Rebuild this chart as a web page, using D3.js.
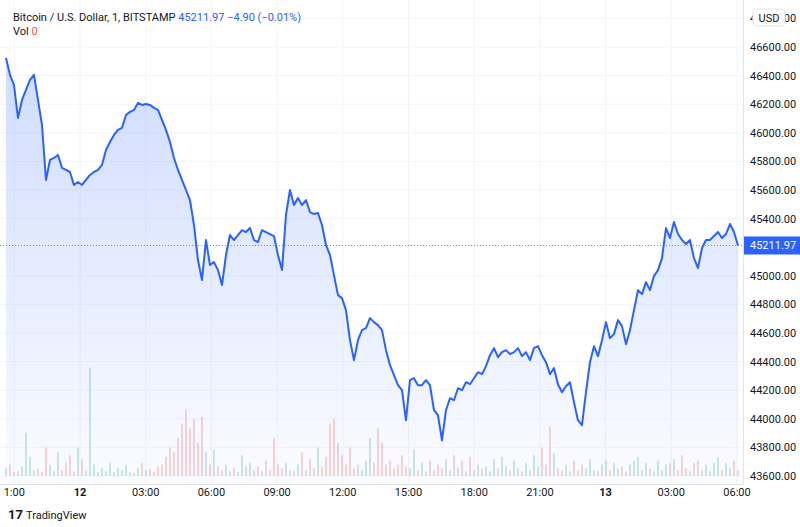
<!DOCTYPE html>
<html><head><meta charset="utf-8">
<script src="https://cdn.jsdelivr.net/npm/d3@7"></script>
<style>body{margin:0;background:#fff;font-family:"Trebuchet MS",Roboto,sans-serif}</style>
</head><body><svg id="c" width="800" height="527"></svg>
<script>
// Bitcoin / USD, 1-minute, sampled roughly every 11 minutes
const startHour = -3.38;          // hours relative to 00:00 on the 12th
const stepHour = 4 / 21.9;
const lastPrice = 45211.97;
const prices = [46524,46405,46335,46104,46230,46300,46370,46405,46230,46055,45670,45810,45824,45845,45754,45740,45726,45635,45656,45635,45670,45705,45726,45740,45775,45880,45936,45985,46020,46034,46125,46146,46160,46209,46195,46202,46195,46174,46160,46090,46020,45936,45824,45740,45670,45600,45530,45355,45110,44970,45250,45075,45096,45040,44935,45145,45285,45250,45285,45320,45306,45334,45250,45236,45320,45306,45292,45278,45145,45040,45425,45600,45495,45544,45495,45530,45446,45432,45439,45355,45215,45145,45005,44865,44844,44760,44550,44410,44550,44620,44634,44704,44676,44655,44620,44480,44375,44305,44235,44200,43990,44270,44284,44235,44235,44270,44235,44060,44025,43850,44060,44144,44130,44214,44200,44256,44242,44284,44326,44312,44368,44445,44494,44431,44466,44480,44452,44466,44494,44438,44466,44410,44494,44508,44445,44396,44312,44354,44242,44186,44228,44256,44116,43990,43955,44186,44396,44508,44438,44550,44676,44564,44592,44690,44648,44522,44620,44760,44900,44872,44956,44900,44998,45040,45124,45334,45264,45376,45292,45250,45222,45250,45124,45054,45194,45250,45250,45278,45306,45264,45292,45362,45306,45212];
const volumes = [8,12,4,5,10,45,20,6,8,4,30,12,5,25,6,14,22,5,30,18,6,114,12,4,8,5,14,4,8,6,12,4,3,8,14,6,8,4,10,12,20,30,25,40,55,70,50,60,35,62,25,12,28,10,6,12,5,8,4,22,10,14,6,10,5,16,6,40,12,8,14,6,5,12,25,6,18,8,30,10,20,55,60,35,22,12,30,8,12,6,16,40,14,50,35,12,16,8,12,22,10,8,28,6,14,5,16,6,12,8,18,6,22,8,16,5,20,6,12,8,10,5,18,8,20,10,6,16,8,5,14,6,22,10,30,12,52,24,8,6,12,5,16,6,12,8,18,6,5,12,16,6,14,8,10,5,12,16,20,6,14,8,5,16,6,12,14,18,6,22,8,5,14,16,6,12,5,14,20,6,14,8,16,6];
const yTicks = [43600,43800,44000,44200,44400,44600,44800,45000,45400,45600,45800,46000,46200,46400,46600,46800];
const xTicks = [[-3,"1:00"],[0,"12"],[3,"03:00"],[6,"06:00"],[9,"09:00"],[12,"12:00"],[15,"15:00"],[18,"18:00"],[21,"21:00"],[24,"13"],[27,"03:00"],[30,"06:00"]];

const svg = d3.select('#c');
const W = 743, bottom = 484;
const x = d3.scaleLinear().domain([0, 30]).range([80, 737]);
const y = d3.scaleLinear().domain([43600, 46600]).range([476, 47]);
const v = d3.scaleLinear().domain([0, 120]).range([476, 362]);
const t = i => startHour + i * stepHour;

// grid
svg.append('g').selectAll('line').data(yTicks).enter().append('line')
  .attr('x1', 0).attr('x2', W).attr('y1', d => y(d)).attr('y2', d => y(d))
  .attr('stroke', '#f2f4f9');
svg.append('g').selectAll('line').data(xTicks).enter().append('line')
  .attr('x1', d => x(d[0])).attr('x2', d => x(d[0])).attr('y1', 0).attr('y2', bottom)
  .attr('stroke', '#f2f4f9');

// area gradient
const grad = svg.append('defs').append('linearGradient').attr('id', 'g')
  .attr('x1', 0).attr('x2', 0).attr('y1', 0).attr('y2', 1);
grad.append('stop').attr('offset', '0%').attr('stop-color', 'rgba(41,98,255,0.22)');
grad.append('stop').attr('offset', '100%').attr('stop-color', 'rgba(41,98,255,0.02)');

svg.append('path').datum(prices)
  .attr('fill', 'url(#g)')
  .attr('d', d3.area().x((d, i) => x(t(i))).y0(bottom).y1(d => y(d)));

// volume
svg.append('g').selectAll('rect').data(volumes).enter().append('rect')
  .attr('x', (d, i) => x(t(i)) - 0.5).attr('width', 1)
  .attr('y', d => v(d)).attr('height', d => 476 - v(d))
  .attr('fill', (d, i) => i > 0 && prices[i] < prices[i - 1] ? 'rgba(239,83,80,0.5)' : 'rgba(38,166,154,0.5)');

// price line
svg.append('path').datum(prices)
  .attr('fill', 'none').attr('stroke', '#2962ff').attr('stroke-width', 2)
  .attr('stroke-linejoin', 'round')
  .attr('d', d3.line().x((d, i) => x(t(i))).y(d => y(d)));

// last price line
svg.append('line').attr('x1', 0).attr('x2', W).attr('y1', y(lastPrice)).attr('y2', y(lastPrice))
  .attr('stroke', '#2962ff').attr('stroke-dasharray', '1,2').attr('opacity', 0.7);

// axes frame
svg.append('line').attr('x1', W + 0.5).attr('x2', W + 0.5).attr('y1', 0).attr('y2', bottom).attr('stroke', '#e0e3eb');
svg.append('line').attr('x1', 0).attr('x2', W).attr('y1', bottom + 0.5).attr('y2', bottom + 0.5).attr('stroke', '#e0e3eb');

svg.append('g').selectAll('text').data(yTicks).enter().append('text')
  .attr('x', 750).attr('y', d => y(d) + 4).attr('font-size', 11).attr('fill', '#131722')
  .text(d => d.toFixed(2));
svg.append('rect').attr('x', 744).attr('y', y(lastPrice) - 9).attr('width', 56).attr('height', 18).attr('fill', '#2962ff');
svg.append('text').attr('x', 750).attr('y', y(lastPrice) + 4).attr('font-size', 11).attr('fill', '#fff').text(lastPrice.toFixed(2));
svg.append('rect').attr('x', 753).attr('y', 9).attr('width', 32).attr('height', 17).attr('rx', 4)
  .attr('fill', '#fff').attr('stroke', '#e0e3eb');
svg.append('text').attr('x', 769).attr('y', 22).attr('text-anchor', 'middle').attr('font-size', 11).attr('fill', '#131722').text('USD');

svg.append('g').selectAll('text').data(xTicks).enter().append('text')
  .attr('x', d => x(d[0])).attr('y', 496).attr('text-anchor', 'middle')
  .attr('font-size', 11).attr('fill', '#131722').attr('font-weight', d => d[1].length < 3 ? 'bold' : null)
  .text(d => d[1]);

// header
const h = svg.append('text').attr('x', 13).attr('y', 21).attr('font-size', 11);
h.append('tspan').attr('fill', '#131722').text('Bitcoin / U.S. Dollar, 1, BITSTAMP ');
h.append('tspan').attr('fill', '#2962ff').text(' 45211.97  −4.90 (−0.01%)');
const vl = svg.append('text').attr('x', 13).attr('y', 35).attr('font-size', 11);
vl.append('tspan').attr('fill', '#131722').text('Vol ');
vl.append('tspan').attr('fill', '#ef5350').text(' 0');

svg.append('text').attr('x', 8).attr('y', 519).attr('font-size', 13).attr('font-weight', 'bold').attr('fill', '#131722').text('17');
svg.append('text').attr('x', 26).attr('y', 519).attr('font-size', 11).attr('fill', '#131722').text('TradingView');
</script></body></html>
